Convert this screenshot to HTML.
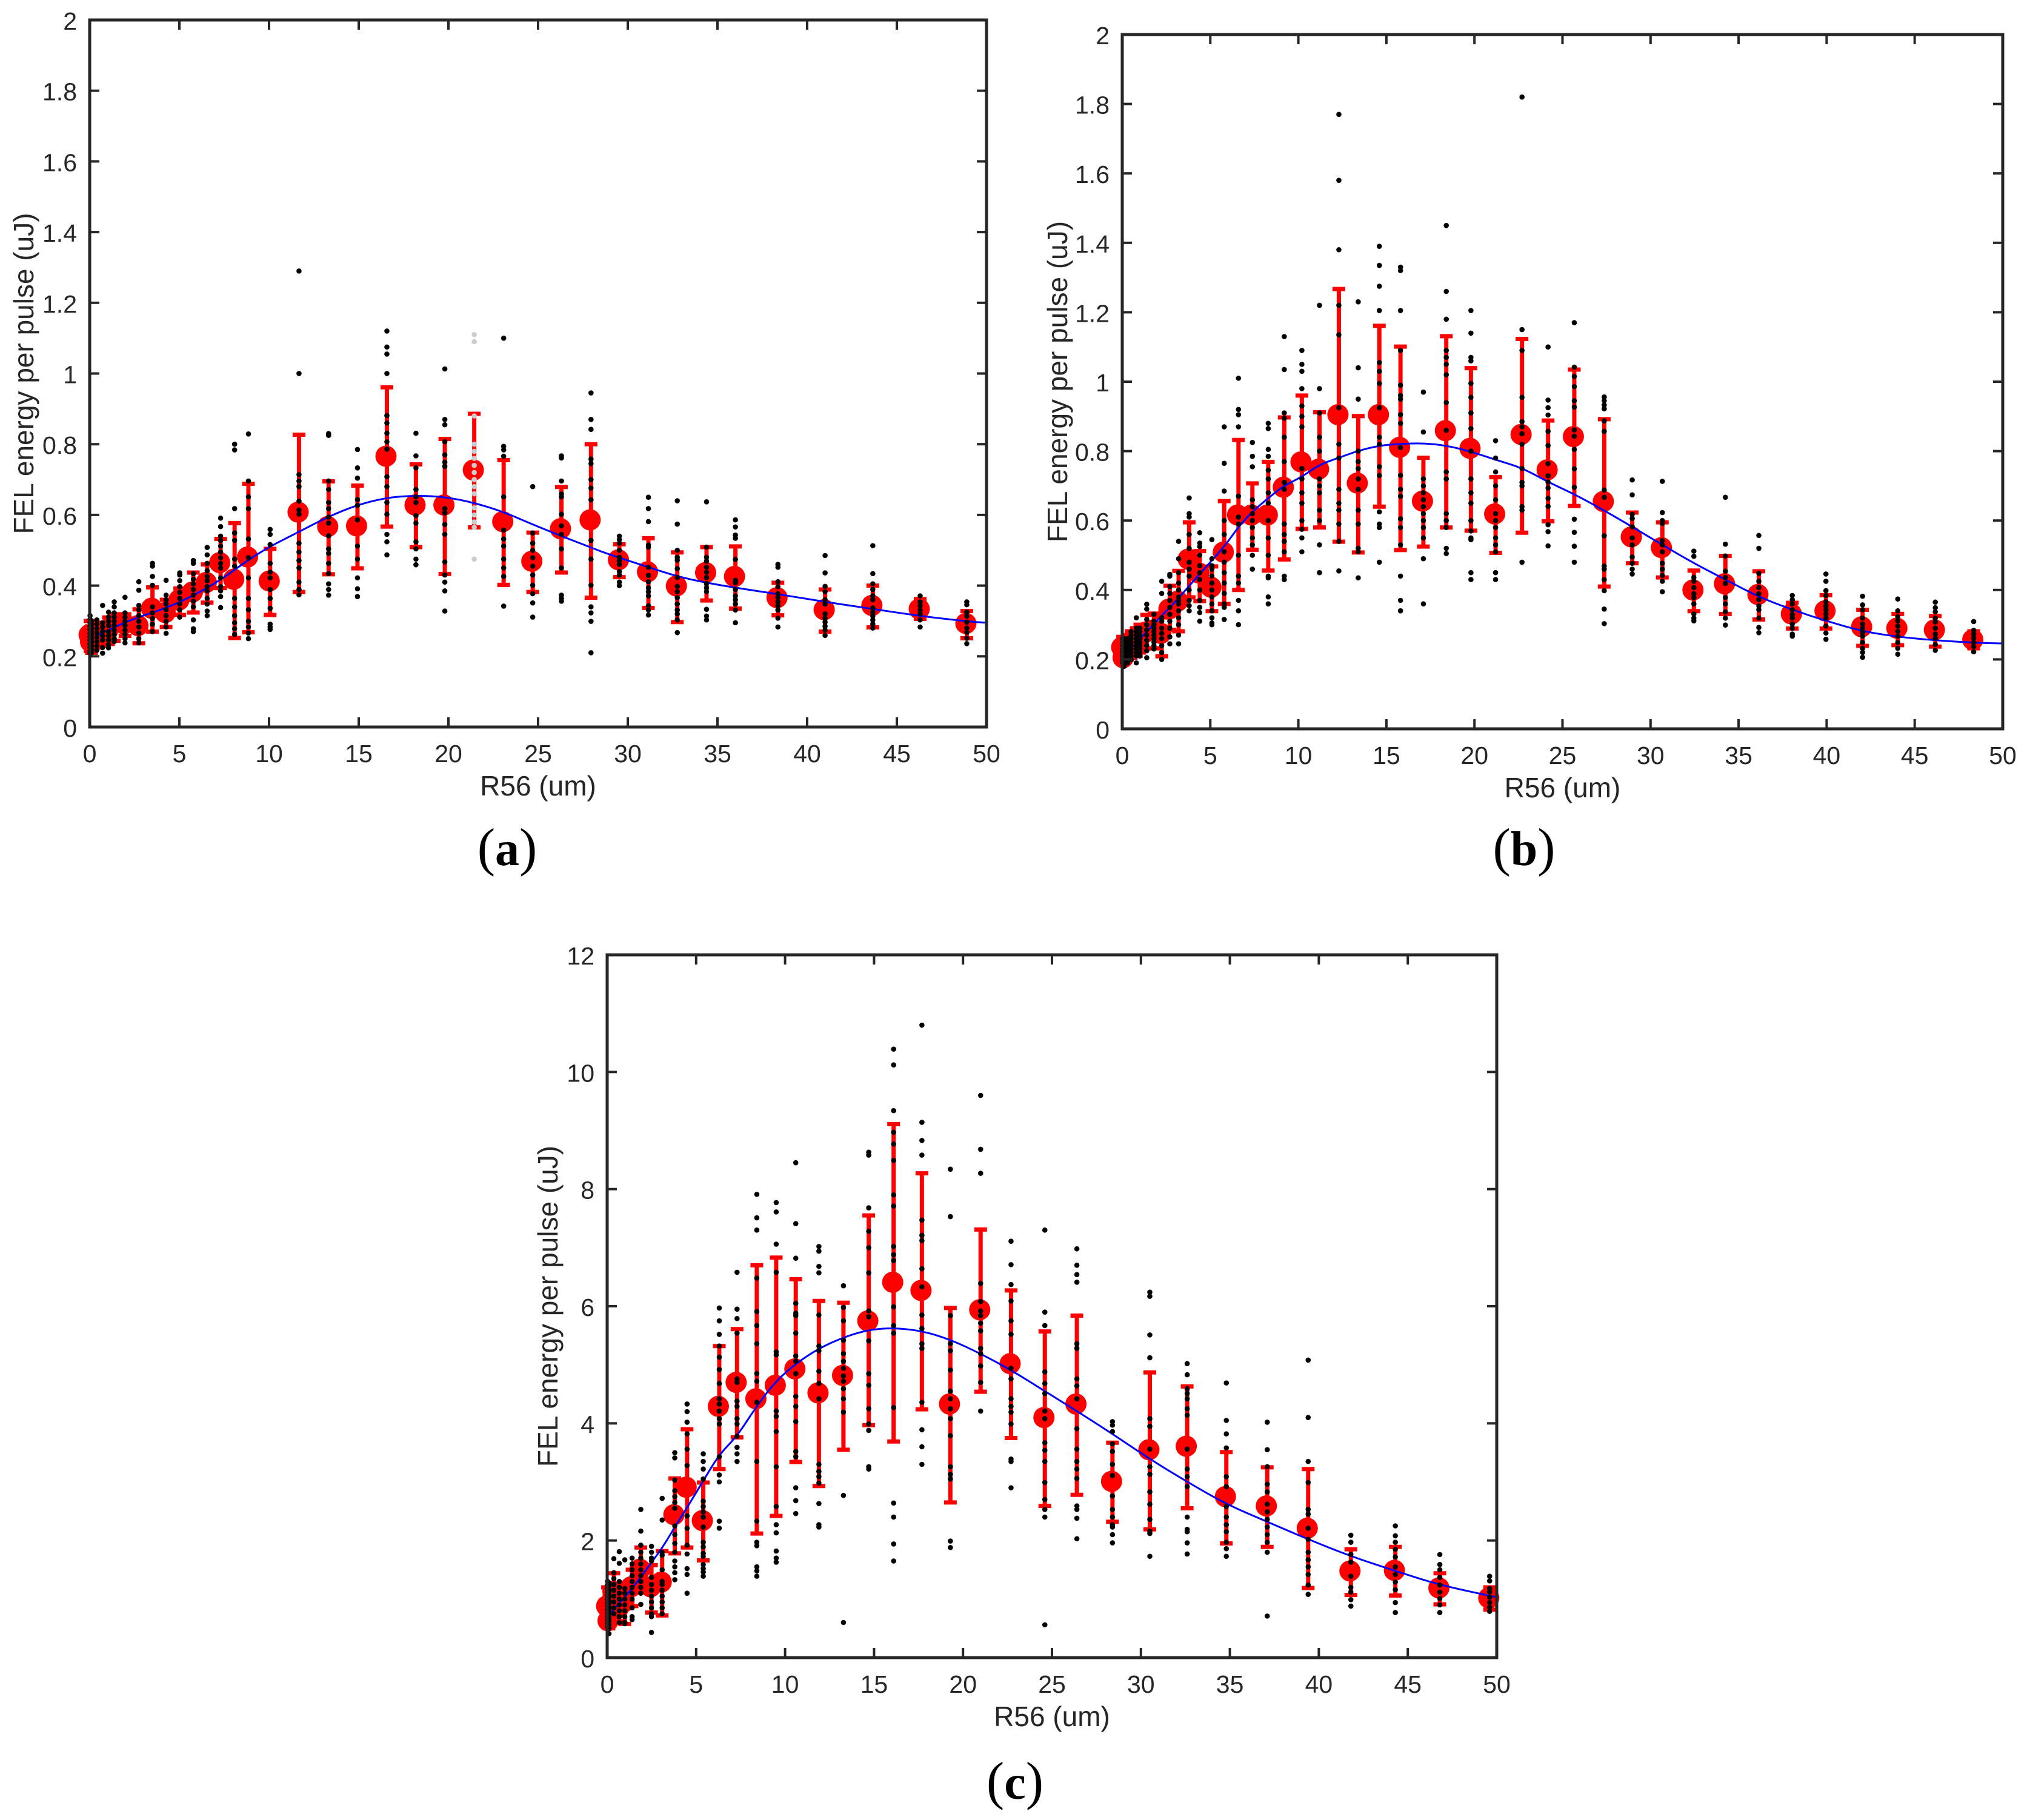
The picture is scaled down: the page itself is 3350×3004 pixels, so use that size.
<!DOCTYPE html>
<html lang="en">
<head>
<meta charset="utf-8">
<title>FEL energy per pulse vs R56</title>
<style>
html,body{margin:0;padding:0;background:#fff;}
svg{display:block;}
text{font-family:"Liberation Sans",sans-serif;fill:#262626;}
.cap{font-family:"Liberation Serif",serif;fill:#000;}
</style>
</head>
<body>
<svg id="fig" xmlns="http://www.w3.org/2000/svg" width="3350" height="3004" viewBox="0 0 3350 3004">
<rect width="3350" height="3004" fill="#fff"/>
<text class="cap" x="837" y="1428" text-anchor="middle" font-size="88">(<tspan font-weight="bold" font-size="80">a</tspan>)</text>
<text class="cap" x="2515" y="1428" text-anchor="middle" font-size="88">(<tspan font-weight="bold" font-size="80">b</tspan>)</text>
<text class="cap" x="1675" y="2969" text-anchor="middle" font-size="88">(<tspan font-weight="bold" font-size="80">c</tspan>)</text>
</svg>
<script>
const xTickLabels = [0,5,10,15,20,25,30,35,40,45,50];
const yTickLabelsAB = ["0","0.2","0.4","0.6","0.8","1","1.2","1.4","1.6","1.8","2"];
const yTickLabelsC = ["0","2","4","6","8","10","12"];

const aX = [.02,.1,.4,.72,1.05,1.37,1.97,2.74,3.5,4.26,5.02,5.78,6.55,7.3,8.08,8.85,10.06,11.67,13.32,14.93,16.57,18.19,19.8,21.44,23.08,24.7,26.3,27.95,29.53,31.15,32.76,34.39,36,38.37,41,43.66,46.3,48.9];
const aMean = [.261,.241,.258,.262,.273,.293,.292,.287,.336,.324,.359,.382,.409,.465,.418,.481,.413,.608,.567,.569,.766,.628,.628,.727,.581,.469,.561,.586,.473,.439,.399,.437,.426,.366,.332,.344,.334,.293];
const aLow = [.215,.21,.225,.23,.235,.244,.258,.237,.27,.283,.317,.324,.352,.393,.252,.268,.317,.382,.432,.449,.567,.509,.433,.565,.402,.382,.437,.366,.424,.337,.297,.358,.335,.316,.27,.282,.306,.251];
const aHigh = [.30,.285,.29,.295,.31,.319,.319,.333,.395,.36,.392,.437,.46,.532,.577,.688,.504,.827,.695,.683,.961,.743,.815,.886,.755,.55,.679,.80,.517,.534,.494,.509,.511,.408,.389,.40,.362,.328];
const aDots = [
[.315,.305,.295,.285,.275,.265,.255,.245,.235,.225,.215,.208],
[.30,.29,.28,.27,.26,.25,.24,.23,.22,.21],
[.303,.291,.278,.266,.254,.242,.229,.217],
[.344,.295,.283,.27,.258,.246,.225,.209],
[.325,.311,.299,.287,.27,.258,.246,.233,.224],
[.354,.34,.323,.311,.299,.287,.274,.262,.25,.242],
[.367,.323,.311,.299,.287,.274,.262,.25,.238],
[.411,.387,.344,.332,.315,.299,.283,.266,.25,.238],
[.463,.455,.426,.401,.34,.323,.307,.291,.27],
[.415,.373,.36,.348,.332,.315,.299,.283,.265],
[.436,.43,.414,.397,.381,.364,.348,.332,.311],
[.471,.463,.434,.418,.405,.389,.373,.356,.34,.303,.278,.27],
[.508,.487,.463,.442,.426,.414,.397,.385,.364,.348,.328,.315],
[.591,.567,.54,.528,.512,.495,.479,.463,.45,.422,.397,.385,.369,.338],
[.8,.784,.618,.549,.528,.475,.455,.364,.34,.315,.295,.278,.262],
[.829,.696,.651,.618,.532,.479,.422,.364,.332,.299,.283,.266,.25],
[.559,.545,.516,.463,.438,.422,.389,.364,.336,.291,.283,.276],
[1.29,1.0,.714,.696,.68,.639,.614,.602,.52,.495,.471,.45,.41,.389,.374],
[.83,.825,.696,.672,.635,.618,.594,.577,.541,.504,.491,.463,.434,.405,.389,.373],
[.785,.733,.704,.643,.627,.586,.512,.475,.422,.391,.369],
[1.12,1.075,1.055,1.0,.881,.86,.831,.807,.786,.708,.68,.635,.602,.545,.524,.487],
[.831,.767,.733,.672,.651,.635,.598,.577,.524,.504,.475,.459],
[1.013,.87,.855,.807,.77,.749,.737,.618,.606,.573,.545,.467,.43,.41,.385,.328],
[1.11,1.09,.88,.80,.78,.76,.74,.72,.70,.68,.66,.62,.60,.58,.565,.475],
[1.1,.794,.784,.766,.651,.557,.532,.512,.475,.45,.426,.342],
[.68,.549,.52,.5,.479,.455,.43,.401,.377,.351,.311],
[.767,.761,.696,.659,.651,.602,.569,.545,.504,.45,.373,.364,.356],
[.945,.87,.842,.758,.745,.70,.676,.643,.528,.475,.401,.34,.323,.299,.21],
[.54,.53,.52,.50,.48,.47,.46,.44,.43,.41,.40],
[.65,.618,.581,.515,.509,.452,.429,.411,.394,.383,.371,.343,.331,.317],
[.64,.574,.50,.48,.472,.448,.423,.398,.383,.366,.348,.331,.32,.303,.267],
[.637,.509,.48,.469,.452,.438,.423,.406,.394,.383,.333,.314,.303],
[.586,.566,.543,.534,.474,.415,.408,.389,.371,.36,.348,.331,.295],
[.46,.452,.411,.397,.377,.366,.354,.343,.331,.308,.283],
[.485,.436,.398,.383,.36,.348,.32,.308,.297,.285,.274,.259],
[.513,.434,.405,.389,.371,.36,.337,.325,.314,.303,.291,.28],
[.371,.354,.343,.331,.32,.303,.283],
[.354,.346,.325,.314,.297,.28,.268,.251,.236]
];
const aGrayColumns = [23];
const aFitX = [.5,2,4.26,5.8,7.3,8.85,10.06,11.7,13.3,14.9,16.55,18.2,19.8,21.4,23.1,24.7,26.3,27.95,28.74,31.15,32.76,34.39,36,38.37,41,43.66,46.3,48.9,50];
const aFitY = [.261,.299,.336,.372,.416,.473,.511,.553,.595,.628,.649,.655,.651,.635,.608,.573,.54,.508,.492,.452,.426,.408,.394,.376,.354,.334,.314,.299,.295];

const bX = [.02,.1,.3,.5,.8,1.0,1.39,1.8,2.24,2.7,3.2,3.8,4.4,5.09,5.79,6.6,7.39,8.29,9.2,10.2,11.2,12.3,13.4,14.6,15.8,17.1,18.4,19.8,21.2,22.7,24.18,25.67,27.37,28.96,30.67,32.46,34.25,36.15,38.05,39.96,42.04,44.04,46.17,48.35];
const bMean = [.235,.205,.225,.235,.25,.26,.279,.285,.275,.345,.368,.489,.449,.408,.509,.616,.616,.616,.696,.769,.748,.905,.708,.905,.811,.656,.859,.808,.619,.848,.746,.842,.655,.553,.522,.40,.418,.387,.331,.34,.294,.29,.285,.257];
const bLow = [.195,.19,.2,.205,.21,.22,.232,.232,.209,.285,.281,.379,.368,.339,.36,.40,.516,.456,.488,.576,.58,.539,.508,.64,.515,.525,.58,.571,.507,.565,.598,.642,.41,.477,.436,.339,.331,.315,.289,.289,.239,.241,.237,.232];
const bHigh = [.265,.26,.27,.281,.29,.3,.328,.332,.321,.412,.455,.595,.512,.468,.656,.832,.707,.769,.897,.96,.912,1.267,.901,1.161,1.101,.781,1.131,1.039,.725,1.123,.888,1.035,.892,.623,.595,.456,.498,.454,.363,.385,.343,.331,.325,.281];
const bDots = [
[.26,.25,.24,.23,.22,.21,.20,.19],
[.26,.25,.24,.23,.22,.21,.20,.19,.18],
[.26,.25,.24,.23,.22,.21,.20,.19],
[.28,.27,.26,.25,.24,.23,.22,.21,.2],
[.32,.29,.28,.27,.26,.25,.24,.23,.22,.21,.19],
[.29,.28,.27,.26,.25,.24,.23,.22,.21],
[.359,.345,.315,.30,.285,.27,.255,.24,.225,.205],
[.33,.31,.30,.29,.28,.27,.26,.25,.24,.23],
[.425,.39,.32,.31,.29,.275,.26,.24,.22,.20],
[.445,.44,.41,.39,.37,.35,.33,.31,.29,.265,.245],
[.54,.49,.45,.42,.40,.38,.37,.36,.34,.32,.30,.27,.245],
[.665,.62,.61,.56,.52,.48,.46,.44,.40,.37,.355,.34],
[.565,.535,.525,.50,.47,.45,.43,.40,.37,.35,.335,.31],
[.545,.49,.47,.46,.44,.42,.40,.38,.36,.34,.32,.305,.30],
[.87,.765,.685,.60,.56,.51,.48,.45,.42,.39,.36,.35,.315],
[1.01,.92,.905,.87,.67,.61,.59,.50,.44,.42,.37,.34,.30],
[.825,.785,.755,.66,.64,.62,.60,.58,.55,.53,.50,.46],
[.88,.865,.805,.785,.745,.72,.68,.65,.60,.55,.50,.44,.435,.38,.36],
[1.13,1.035,.91,.895,.84,.77,.71,.69,.59,.56,.54,.51,.44,.43],
[1.09,1.05,1.03,.98,.93,.90,.87,.75,.72,.68,.65,.60,.575,.55,.51],
[1.22,.98,.91,.84,.80,.72,.70,.68,.63,.60,.53,.45],
[1.77,1.58,1.38,1.22,1.135,.925,.82,.78,.69,.65,.63,.59,.54,.455],
[1.23,1.04,.95,.80,.77,.75,.72,.69,.63,.59,.52,.51,.435],
[1.39,1.335,1.275,1.205,1.055,1.03,.995,.925,.84,.82,.755,.73,.625,.59,.58,.48],
[1.33,1.32,1.205,1.09,.99,.96,.95,.905,.88,.81,.73,.69,.67,.605,.58,.53,.44,.37,.34],
[.97,.855,.72,.70,.68,.66,.64,.62,.60,.58,.55,.49,.36],
[1.45,1.26,1.18,1.09,1.07,1.05,1.02,.94,.86,.74,.72,.62,.60,.58,.52,.505],
[1.205,1.14,1.07,1.06,.995,.955,.91,.865,.80,.72,.68,.65,.60,.57,.55,.545,.45,.43],
[.83,.78,.74,.70,.66,.62,.60,.58,.55,.53,.51,.45,.43],
[1.82,1.15,1.09,.955,.885,.87,.85,.82,.75,.71,.70,.64,.63,.48],
[1.10,.947,.925,.904,.857,.816,.764,.729,.711,.694,.664,.641,.588,.568,.527],
[1.17,1.042,1.015,.986,.945,.927,.861,.843,.805,.749,.696,.604,.566,.526,.48],
[.956,.945,.933,.922,.887,.857,.688,.667,.556,.469,.46,.43,.398,.345,.303],
[.717,.674,.618,.606,.582,.55,.53,.495,.477,.46,.446],
[.713,.623,.6,.592,.542,.53,.51,.477,.46,.442,.425,.395],
[.512,.497,.436,.425,.407,.389,.378,.36,.331,.319,.311],
[.667,.532,.498,.454,.436,.419,.378,.36,.337,.319,.299],
[.557,.52,.448,.425,.407,.389,.372,.354,.343,.319,.292,.277],
[.384,.372,.36,.343,.329,.319,.302,.29,.273,.267],
[.446,.425,.398,.384,.366,.354,.343,.331,.319,.296,.276,.258],
[.382,.357,.343,.319,.302,.29,.278,.267,.249,.232,.22,.206],
[.374,.34,.323,.311,.296,.281,.267,.249,.232,.215],
[.365,.349,.337,.319,.308,.29,.273,.261,.243,.226],
[.309,.284,.273,.261,.249,.237,.222]
];
const bGrayColumns = [];
const bFitX = [.39,2.2,3,4.4,5.8,6.57,7.37,8.3,9.14,10.17,11.2,12.3,13.4,14.6,15.8,17.1,18.4,19.8,21.2,22.7,24.18,25.67,27.37,28.96,30.67,32.46,34.25,36.15,38.05,39.96,42.04,44.04,46.17,48.35,50];
const bFitY = [.226,.324,.365,.4465,.525,.58,.625,.665,.699,.725,.761,.781,.801,.816,.821,.823,.816,.799,.775,.752,.711,.676,.629,.582,.53,.477,.43,.38,.343,.311,.281,.265,.255,.248,.246];

const cX = [.02,.1,.375,.68,.99,1.4,1.89,2.49,3.09,3.8,4.49,5.4,6.3,7.3,8.41,9.5,10.6,11.9,13.28,14.7,16.1,17.69,19.29,20.99,22.7,24.6,26.4,28.4,30.5,32.6,34.8,37.1,39.4,41.8,44.3,46.8,49.6];
const cMean = [.88,.63,1.13,.85,.95,1.21,1.51,1.21,1.29,2.44,2.91,2.34,4.29,4.7,4.42,4.65,4.93,4.52,4.82,5.75,6.41,6.27,4.33,5.94,5.02,4.1,4.33,3.01,3.55,3.61,2.75,2.59,2.21,1.48,1.49,1.19,1.02];
const cLow = [.6,.5,.75,.62,.576,.88,1.14,.77,.72,1.78,1.88,1.66,3.22,3.76,2.12,2.42,3.34,2.93,3.55,3.97,3.69,4.24,2.65,4.54,3.75,2.59,2.78,2.32,2.19,2.55,1.95,1.89,1.19,1.07,1.06,.91,.82];
const cHigh = [1.2,1.05,1.44,1.1,1.25,1.5,1.88,1.58,1.82,3.06,3.9,2.99,5.32,5.61,6.7,6.83,6.46,6.09,6.06,7.55,9.11,8.27,5.97,7.31,6.27,5.57,5.84,3.67,4.87,4.63,3.51,3.25,3.22,1.85,1.89,1.44,1.2];
const cDots = [
[1.3,1.24,1.18,1.12,1.06,1.0,.94,.88,.82,.76,.7,.64,.58,.52],
[1.28,1.22,1.16,1.1,1.04,.98,.92,.86,.8,.74,.68,.62,.56,.5,.41],
[1.69,1.45,1.35,1.25,1.15,1.05,.95,.85,.75],
[1.81,1.61,1.3,1.2,1.1,1.0,.9,.8,.7,.6],
[1.67,1.18,1.1,1.0,.9,.8,.7,.6,.58],
[1.7,1.6,1.5,1.4,1.3,1.2,1.1,1.0,.85,.7,.65],
[2.53,2.16,1.92,1.8,1.7,1.6,1.5,1.4,1.3,1.2,1.1,.91],
[1.9,1.8,1.7,1.65,1.37,1.25,1.15,1.05,.95,.85,.75,.7,.43],
[2.72,2.35,1.8,1.75,1.5,1.3,1.25,1.15,1.05,.95,.85,.75],
[3.5,3.41,3.03,2.85,2.75,2.65,2.55,2.25,2.1,1.95,1.8,1.65,1.55,1.45,1.33],
[4.33,4.2,4.02,3.82,3.56,3.28,2.42,2.21,1.92,1.77,1.52,1.42,1.1],
[3.48,3.35,3.22,3.05,2.67,2.58,2.49,2.4,2.23,1.97,1.89,1.78,1.73,1.59,1.52,1.46,1.39],
[5.97,5.75,5.52,5.32,5.13,4.92,4.68,4.42,4.33,4.21,4.08,3.99,3.43,3.12,3.0,2.33,2.21],
[6.58,5.95,5.79,5.54,4.76,4.7,4.38,4.29,4.08,3.99,3.78,3.59,3.48,3.35],
[7.91,7.51,7.3,6.48,5.91,5.67,5.36,4.85,4.72,4.36,3.35,2.33,1.97,1.91,1.55,1.48,1.39],
[7.77,7.61,7.06,6.58,5.22,5.17,4.21,4.12,3.86,3.26,2.58,2.27,2.13,1.82,1.7,1.63],
[8.45,7.41,6.82,6.05,5.88,5.84,5.54,5.15,5.06,4.85,4.46,4.29,4.03,3.52,3.43,2.9,2.68,2.46],
[7.02,6.94,6.68,6.57,5.85,5.32,5.24,4.89,4.68,4.42,3.3,3.18,3.09,2.98,2.63,2.27,2.23],
[6.35,5.98,5.75,5.42,5.19,5.06,4.94,4.81,4.72,4.59,4.42,4.19,2.77,.6],
[8.63,8.58,7.68,7.28,7.0,6.57,5.92,5.82,5.41,4.85,4.65,4.25,3.99,3.88,3.26,3.22],
[10.39,10.12,9.34,8.97,8.77,8.49,7.9,7.71,7.02,6.88,6.78,5.99,5.67,5.54,4.27,2.64,2.4,1.94,1.65],
[10.8,9.14,8.83,8.58,7.47,7.21,7.12,6.64,6.33,5.85,5.62,5.36,5.28,4.36,3.89,3.6,3.3],
[8.34,7.53,5.84,5.36,5.24,4.91,4.55,4.42,4.25,4.08,3.79,3.26,3.13,3.05,1.99,1.88],
[9.6,8.68,8.27,6.39,6.08,5.92,5.84,5.71,5.58,5.28,5.19,4.98,4.7,4.21],
[7.11,6.71,6.37,6.09,5.75,5.52,4.94,4.76,4.42,4.29,4.19,3.99,3.39,3.35,2.9],
[7.3,5.9,5.67,4.88,4.68,4.51,4.21,4.08,3.67,3.54,3.35,2.99,2.7,2.53,2.4,.56],
[6.98,6.7,6.54,6.41,5.36,5.28,4.76,4.64,4.42,3.91,3.56,3.35,3.22,3.06,2.59,2.53,2.38,2.03],
[4.03,3.97,3.86,3.65,3.52,3.3,3.11,2.76,2.53,2.4,2.27,2.23,2.1,1.96],
[6.24,6.17,5.51,5.12,4.08,3.95,3.56,3.26,3.13,2.83,2.62,2.36,2.16,2.12,1.73],
[5.02,4.83,4.59,4.51,4.42,4.25,4.14,3.56,3.22,3.09,2.92,2.4,2.19,2.15,1.96,1.77],
[4.69,4.05,3.82,3.58,3.09,2.92,2.58,2.4,2.27,2.15,1.97,1.86,1.73],
[4.02,3.55,3.26,2.96,2.83,2.62,2.49,2.36,2.23,2.1,1.97,1.8,.71],
[5.08,4.1,3.35,2.99,2.53,2.45,2.21,2.02,1.8,1.67,1.55,1.42,1.24,1.08],
[2.09,1.97,1.76,1.63,1.39,1.2,1.12,.99,.88],
[2.25,2.08,1.97,1.85,1.72,1.55,1.42,1.29,1.16,.94,.77],
[1.76,1.59,1.5,1.37,1.24,1.12,1.01,.9,.77],
[1.39,1.31,1.18,1.12,1.03,.94,.86,.79]
];
const cGrayColumns = [];
const cFitX = [.23,1.08,1.88,2.5,3.13,3.8,4.49,5.4,6.3,7.3,8.39,9.48,10.6,11.9,13.28,14.7,16.1,17.69,19.29,20.99,22.7,24.6,26.4,28.4,30.5,32.6,34.8,37.1,39.4,41.8,44.3,46.8,50];
const cFitY = [.78,1.06,1.37,1.63,1.89,2.23,2.56,3.02,3.47,3.78,4.29,4.72,5.02,5.28,5.47,5.6,5.63,5.58,5.43,5.19,4.91,4.55,4.21,3.82,3.39,3.0,2.62,2.32,2.02,1.73,1.48,1.24,1.03];

const SVGNS = "http://www.w3.org/2000/svg";
const fig = document.getElementById("fig");
function make(tag, parent, attrs){
  const el = document.createElementNS(SVGNS, tag);
  for (const k in attrs) el.setAttribute(k, attrs[k]);
  parent.appendChild(el);
  return el;
}
function drawPanel(id, box, yMax, yLabels, tickStep, xs, means, lows, highs, dots, grays, fitX, fitY){
  const sx = v => box.left + (box.right - box.left) * v / 50;
  const sy = v => box.bottom - (box.bottom - box.top) * v / yMax;
  const ink = "#262626";
  const g = make("g", fig, {});
  
  

  xs.forEach((x, i) => {
    const c = make("circle", g, {cx: sx(x) - 1.5, cy: sy(means[i]), r: 17.5, fill: "#ff0000"});
    
    
    const stem = make("line", g, {x1: sx(x), x2: sx(x), y1: sy(lows[i]), y2: sy(highs[i]), stroke: "#ff0000", "stroke-width": 7});
    
    
    const capLow = make("line", g, {x1: sx(x) - 10.5, x2: sx(x) + 10.5, y1: sy(lows[i]), y2: sy(lows[i]), stroke: "#ff0000", "stroke-width": 7});
    
    
    const capHigh = make("line", g, {x1: sx(x) - 10.5, x2: sx(x) + 10.5, y1: sy(highs[i]), y2: sy(highs[i]), stroke: "#ff0000", "stroke-width": 7});
    
    
  });

  let d = "M" + sx(fitX[0]) + " " + sy(fitY[0]);
  for (let i = 1; i < fitX.length - 1; i++) {
    const mx = (sx(fitX[i]) + sx(fitX[i + 1])) / 2;
    const my = (sy(fitY[i]) + sy(fitY[i + 1])) / 2;
    d += " Q" + sx(fitX[i]) + " " + sy(fitY[i]) + " " + mx + " " + my;
  }
  d += " L" + sx(fitX[fitX.length - 1]) + " " + sy(fitY[fitY.length - 1]);
  const fit = make("path", g, {d: d, fill: "none", stroke: "#0000ff", "stroke-width": 3});
  
  

  dots.forEach((col, i) => {
    col.forEach(v => {
      const dot = make("circle", g, {cx: sx(xs[i]), cy: sy(v), r: 4.3, fill: grays.includes(i) ? "#cccccc" : "#000000"});
      
      
    });
  });

  const frame = make("rect", g, {x: box.left, y: box.top, width: box.right - box.left, height: box.bottom - box.top, fill: "none", stroke: ink, "stroke-width": 5});
  
  

  xTickLabels.forEach(v => {
    const t1 = make("line", g, {x1: sx(v), x2: sx(v), y1: box.bottom, y2: box.bottom - 16, stroke: ink, "stroke-width": 4});
    
    
    const t2 = make("line", g, {x1: sx(v), x2: sx(v), y1: box.top, y2: box.top + 16, stroke: ink, "stroke-width": 4});
    
    
    const lab = make("text", g, {x: sx(v), y: box.bottom + 58, "text-anchor": "middle", "font-size": 41});
    lab.textContent = String(v);
    
    
  });
  yLabels.forEach((txt, i) => {
    const v = i * tickStep;
    const t1 = make("line", g, {x1: box.left, x2: box.left + 16, y1: sy(v), y2: sy(v), stroke: ink, "stroke-width": 4});
    
    
    const t2 = make("line", g, {x1: box.right, x2: box.right - 16, y1: sy(v), y2: sy(v), stroke: ink, "stroke-width": 4});
    
    
    const lab = make("text", g, {x: box.left - 21, y: sy(v) + 16, "text-anchor": "end", "font-size": 41});
    lab.textContent = txt;
    
    
  });
  const xt = make("text", g, {x: (box.left + box.right) / 2, y: box.bottom + 113, "text-anchor": "middle", "font-size": 46});
  xt.textContent = "R56 (um)";
  
  
  const cy = (box.top + box.bottom) / 2;
  const yt = make("text", g, {x: box.labelX, y: cy, "text-anchor": "middle", "font-size": 46, transform: "rotate(-90 " + box.labelX + " " + cy + ")"});
  yt.textContent = "FEL energy per pulse (uJ)";
  
  
}
drawPanel("a", {left:148,right:1628,top:33,bottom:1200,labelX:55}, 2, yTickLabelsAB, 0.2, aX, aMean, aLow, aHigh, aDots, aGrayColumns, aFitX, aFitY);
drawPanel("b", {left:1852,right:3305,top:57,bottom:1203,labelX:1761}, 2, yTickLabelsAB, 0.2, bX, bMean, bLow, bHigh, bDots, bGrayColumns, bFitX, bFitY);
drawPanel("c", {left:1002,right:2470,top:1576,bottom:2736,labelX:920}, 12, yTickLabelsC, 2, cX, cMean, cLow, cHigh, cDots, cGrayColumns, cFitX, cFitY);
</script>
</body>
</html>
